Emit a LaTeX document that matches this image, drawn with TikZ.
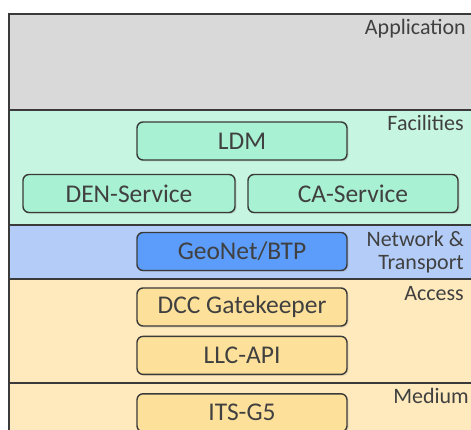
\documentclass[tikz,border=0pt]{standalone}
\usepackage{fontspec}
\setmainfont{Carlito}
\usepackage{tikz}
\usetikzlibrary{
  positioning,
  shadows
}
\usepackage{xcolor}
\definecolor{linegray}{HTML}{3A3A3A}
\definecolor{textgray}{HTML}{404040}
\definecolor{appgray}{HTML}{D9D9D9}
\definecolor{facbg}{HTML}{C6F5E1}
\definecolor{facbox}{HTML}{A9F1D3}
\definecolor{netbg}{HTML}{B4CDF8}
\definecolor{netbox}{HTML}{5C9CFA}
\definecolor{accbg}{HTML}{FEEABD}
\definecolor{accbox}{HTML}{FDE19B}

\begin{document}
\begin{tikzpicture}[
  x=1pt, y=-1pt,
  layer/.style={draw=linegray, line width=1.4pt},
  block/.style={rectangle, draw=linegray, line width=1.4pt, rounded corners=6pt,
    minimum width=210pt, minimum height=38pt, text=textgray,
    font=\fontsize{25.5}{29}\selectfont,
    drop shadow={opacity=0.2, shadow xshift=1.5pt, shadow yshift=-1.5pt}},
  layername/.style={anchor=base east, text=textgray, align=right,
    font=\fontsize{22}{23}\selectfont, inner sep=0pt},
]
\useasboundingbox (0,0) rectangle (471,430);
\clip (0,0) rectangle (471,430);

% Layers
\draw[layer, fill=appgray] (9,14) rectangle (500,110);
\draw[layer, fill=facbg] (9,110) rectangle (500,225);
\draw[layer, fill=netbg] (9,225) rectangle (500,279);
\draw[layer, fill=accbg] (9,279) rectangle (500,383);
\draw[layer, fill=accbg] (9,383) rectangle (500,470);

% Layer names
\node[layername] (app) at (466,35) {Application};
\node[layername] (fac) at (464,131) {Facilities};
\node[layername] (net) at (464,270) {Network \&\\Transport};
\node[layername] (acc) at (464,301) {Access};
\node[layername] (med) at (469,403) {Medium};

% Blocks
\node[block, fill=facbox] (ldm) at (242,141) {LDM};
\node[block, fill=facbox, minimum width=212pt] (den) at (129,193.5) {DEN-Service};
\node[block, fill=facbox] (cas) at (353,193.5) {CA-Service};
\node[block, fill=netbox] (geo) at (242,251.5) {GeoNet/BTP};
\node[block, fill=accbox] (dcc) at (242,307) {DCC Gatekeeper};
\node[block, fill=accbox, below=9pt of dcc] (llc) {LLC-API};
\node[block, fill=accbox, below=18pt of llc] (its) {ITS-G5};
\end{tikzpicture}
\end{document}
